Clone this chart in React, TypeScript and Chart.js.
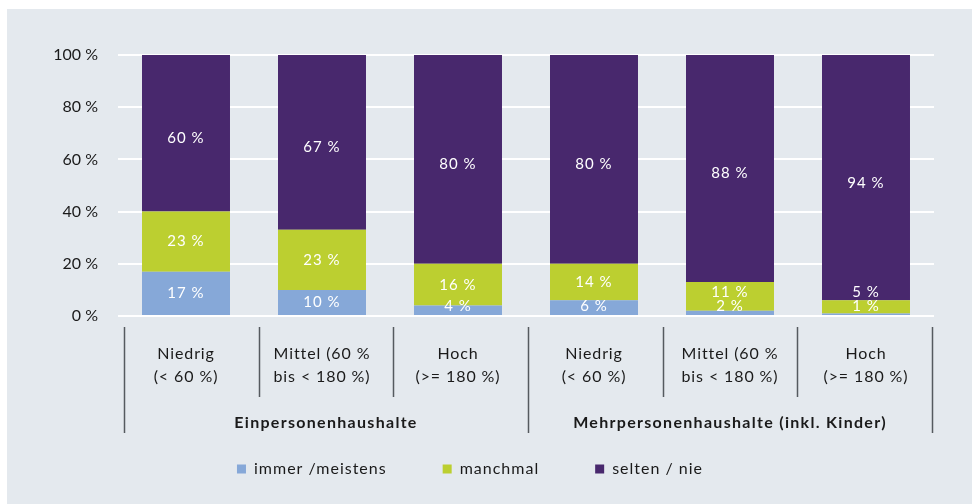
import React, { useEffect, useRef } from "react";
import { Chart, registerables } from "chart.js";

Chart.register(...registerables);

// ---- data ----
const categoryLines: string[][] = [
  ["Niedrig", "(< 60 %)"],
  ["Mittel (60 %", "bis < 180 %)"],
  ["Hoch", "(>= 180 %)"],
  ["Niedrig", "(< 60 %)"],
  ["Mittel (60 %", "bis < 180 %)"],
  ["Hoch", "(>= 180 %)"],
];
const groupLabels = ["Einpersonenhaushalte", "Mehrpersonenhaushalte (inkl. Kinder)"];
const groupSizes = [3, 3];
const seriesNames = ["immer /meistens", "manchmal", "selten / nie"];
const immerMeistens = [17, 10, 4, 6, 2, 1];
const manchmal = [23, 23, 16, 14, 11, 5];
const seltenNie = [60, 67, 80, 80, 88, 94];
const yTicks = [0, 20, 40, 60, 80, 100];

const COLORS = ["#86a8d8", "#bccf30", "#48286d"];
const BG = "#e4e9ee";
const FONT = "Lato";
const TEXT = "#1a1a1a";

function setSpacing(ctx: any, px: number) {
  if ("letterSpacing" in ctx) ctx.letterSpacing = `${px}px`;
}

const decorPlugin = {
  id: "decor",
  afterDatasetsDraw(chart: any) {
    const ctx = chart.ctx as CanvasRenderingContext2D;
    const area = chart.chartArea;
    const n = chart.data.labels.length;
    ctx.save();
    ctx.fillStyle = "#ffffff";
    ctx.font = `15px ${FONT}`;
    setSpacing(ctx, 1);
    ctx.textAlign = "center";
    ctx.textBaseline = "middle";
    for (let i = 0; i < n; i++) {
      let prev = Infinity;
      chart.data.datasets.forEach((ds: any, di: number) => {
        const el = chart.getDatasetMeta(di).data[i];
        const top = Math.max(el.y, area.top);
        const bottom = el.base;
        const h = bottom - top;
        let y = (top + bottom) / 2 + (h > 100 ? 5 : 0);
        y = Math.min(y, area.bottom - 10, prev - 14);
        ctx.fillText(`${ds.data[i]} %`, el.x, y);
        prev = y;
      });
    }
    ctx.restore();
  },
  afterDraw(chart: any) {
    const ctx = chart.ctx as CanvasRenderingContext2D;
    const area = chart.chartArea;
    const x = chart.scales.x;
    const n = chart.data.labels.length;
    ctx.save();
    // category separators
    const sepL = area.left + 6;
    const sepR = area.right - 2;
    const step = (sepR - sepL) / n;
    const lineTop = area.bottom + 11;
    const shortBottom = area.bottom + 81;
    const longBottom = area.bottom + 117;
    const groupStarts: number[] = [0];
    groupSizes.reduce((acc, s) => {
      groupStarts.push(acc + s);
      return acc + s;
    }, 0);
    ctx.strokeStyle = "#555a5f";
    ctx.lineWidth = 1.5;
    for (let i = 0; i <= n; i++) {
      const px = Math.round(sepL + i * step) + 0.5;
      const isLong = groupStarts.includes(i);
      ctx.beginPath();
      ctx.moveTo(px, lineTop);
      ctx.lineTo(px, isLong ? longBottom : shortBottom);
      ctx.stroke();
    }
    // category labels
    ctx.fillStyle = TEXT;
    ctx.font = `16px ${FONT}`;
    setSpacing(ctx, 0.9);
    ctx.textAlign = "center";
    ctx.textBaseline = "middle";
    for (let i = 0; i < n; i++) {
      const cx = x.getPixelForValue(i);
      categoryLines[i].forEach((t, li) => {
        ctx.fillText(t, cx, area.bottom + 38 + li * 23);
      });
    }
    // group labels
    ctx.font = `bold 16px ${FONT}`;
    setSpacing(ctx, 1.3);
    groupLabels.forEach((g, gi) => {
      const a = sepL + groupStarts[gi] * step;
      const b = sepL + groupStarts[gi + 1] * step;
      ctx.fillText(g, (a + b) / 2, area.bottom + 107);
    });
    // legend
    ctx.font = `16px ${FONT}`;
    setSpacing(ctx, 1);
    ctx.textAlign = "left";
    const box = 9;
    const gapBox = 8;
    const gapItem = 56;
    const widths = seriesNames.map((s) => box + gapBox + ctx.measureText(s).width);
    const total = widths.reduce((a, b) => a + b, 0) + gapItem * (widths.length - 1);
    let lx = 463 - total / 2;
    const ly = area.bottom + 153;
    seriesNames.forEach((s, si) => {
      ctx.fillStyle = COLORS[si];
      ctx.fillRect(lx, ly - box / 2, box, box);
      ctx.fillStyle = TEXT;
      ctx.fillText(s, lx + box + gapBox, ly);
      lx += widths[si] + gapItem;
    });
    ctx.restore();
  },
};

export default function App() {
  const ref = useRef<HTMLCanvasElement | null>(null);
  useEffect(() => {
    if (!ref.current) return;
    const chart = new Chart(ref.current, {
      type: "bar",
      data: {
        labels: categoryLines.map((l) => l.join(" ")),
        datasets: [immerMeistens, manchmal, seltenNie].map((d, i) => ({
          label: seriesNames[i],
          data: d,
          backgroundColor: COLORS[i],
          borderWidth: 0,
          categoryPercentage: 1,
          barPercentage: 0.647,
        })),
      },
      options: {
        animation: false,
        responsive: false,
        maintainAspectRatio: false,
        layout: { padding: { top: 46, bottom: 188, left: 0, right: 38 } },
        plugins: { legend: { display: false }, tooltip: { enabled: false } },
        scales: {
          x: { stacked: true, display: false },
          y: {
            stacked: true,
            min: 0,
            max: 100,
            afterFit: (s: any) => {
              s.width = 111;
            },
            afterBuildTicks: (s: any) => {
              s.ticks = yTicks.map((v) => ({ value: v }));
            },
            ticks: {
              padding: 20,
              callback: (v: any) => `${v} %`,
              font: { family: FONT, size: 16 },
              color: TEXT,
            },
            grid: { color: "#ffffff", lineWidth: 2, drawTicks: false },
            border: { display: false },
          },
        },
      },
      plugins: [decorPlugin],
    });
    return () => chart.destroy();
  }, []);
  return (
    <div
      style={{
        position: "absolute",
        left: 7,
        top: 9,
        width: 965,
        height: 495,
        background: BG,
      }}
    >
      <canvas ref={ref} width={965} height={495} style={{ display: "block" }} />
    </div>
  );
}
